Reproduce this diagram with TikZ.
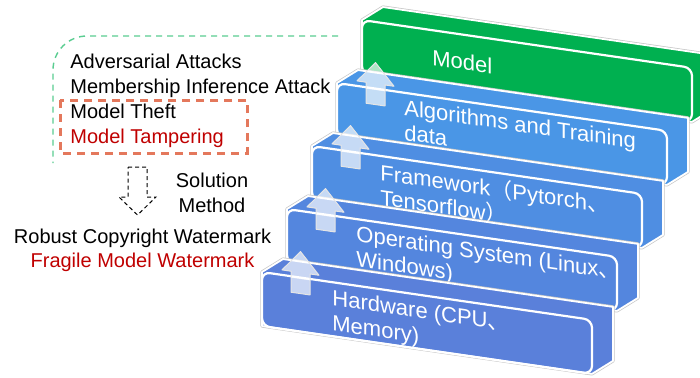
\documentclass[tikz,border=0pt]{standalone}
\usepackage{fontspec}
\setmainfont{Liberation Sans}
\newfontfamily\cjkfont{Noto Sans CJK SC}
\definecolor{mgreen}{RGB}{0,176,80}
\definecolor{blueA}{RGB}{74,150,230}
\definecolor{blueB}{RGB}{79,142,226}
\definecolor{blueC}{RGB}{84,134,222}
\definecolor{blueD}{RGB}{90,128,218}
\definecolor{dashgreen}{RGB}{90,205,145}
\definecolor{dashred}{RGB}{228,120,92}
\definecolor{txtred}{RGB}{192,0,0}
\tikzset{
  slabtext/.style={transform shape, inner sep=0pt, text=white, align=left,
     font=\fontsize{11}{12.5}\selectfont},
  lefttext/.style={inner sep=0pt, font=\fontsize{10}{12}\selectfont},
  uparrow/.style={fill=white, fill opacity=0.68, draw=white!80!gray, line width=0.5pt, line join=round},
}
\newcommand\slabpath{(0,54) -- (0,0) -- (21,-16) -- (351,-16) -- (351,38) -- (330,54) -- cycle}
\newcommand\drawslab[4]{%
  \begin{scope}[shift={(#1,#2)}, yslant=-0.145]
    \draw[gray!45, line width=1.6pt, line join=round] \slabpath;
    \fill[#3] \slabpath;
    \draw[white, line width=0.9pt, line join=round] \slabpath;
    \draw[white, line width=1.1pt, rounded corners=4pt] (0,0) rectangle (330,54);
    #4
  \end{scope}}
\newcommand\uparr{%
  \draw[uparrow] (29,16) -- (29,-5) -- (20,-5) -- (38.5,-26) -- (57,-5) -- (48,-5) -- (48,16) -- cycle;
  \draw[white, opacity=0.6, line width=0.4pt] (29,1) -- (48,1);}
\begin{document}
\begin{tikzpicture}[x=0.5pt, y=-0.5pt]
\useasboundingbox (0,0) rectangle (700,377);
\clip (0,0) rectangle (700,377);
\fill[white] (0,0) rectangle (700,377);

% left dashed frames
\draw[dashgreen, line width=0.7pt, dash pattern=on 3pt off 2.5pt, rounded corners=17pt]
  (338,36) -- (53,36) -- (53,163);
\draw[dashred, line width=1.5pt, dash pattern=on 4pt off 3pt] (60,100) rectangle (247,153);

% left texts
\node[lefttext, anchor=base west] (adv) at (70,68) {Adversarial Attacks};
\node[lefttext, anchor=base west] (mem) at (70,93) {Membership Inference Attack};
\node[lefttext, anchor=base west] (theft) at (70,118) {Model Theft};
\node[lefttext, anchor=base west, text=txtred] (tamper) at (70,143) {Model Tampering};

% dashed down arrow
\draw[black, line width=0.5pt, dash pattern=on 2pt off 1.5pt, line join=miter]
  (128,167) -- (147,167) -- (147,197) -- (156,197) -- (137.5,215) -- (119,197) -- (128,197) -- cycle;
\node[lefttext, anchor=base] (sol) at (212,187) {Solution};
\node[lefttext, anchor=base] (meth) at (212,212) {Method};
\node[lefttext, anchor=base] (robust) at (142.5,243) {Robust Copyright Watermark};
\node[lefttext, anchor=base, text=txtred] (fragile) at (142.5,267) {Fragile Model Watermark};

% stacked slabs
\drawslab{362}{20}{mgreen}{\node[slabtext, anchor=west] (model) at (70,27) {Model};}
\drawslab{337}{83}{blueA}{\uparr
  \node[slabtext, anchor=north west] (algo) at (67,6) {Algorithms and Training\\data};}
\drawslab{312}{146}{blueB}{\uparr
  \node[slabtext, anchor=north west] (frame) at (68,5) {Framework{\cjkfont （}Pytorch{\cjkfont 、}\\Tensorflow{\cjkfont ）}};}
\drawslab{287}{209}{blueC}{\uparr
  \node[slabtext, anchor=north west] (os) at (69,6) {Operating System (Linux{\cjkfont 、}\\Windows)};}
\drawslab{262}{272}{blueD}{\uparr
  \node[slabtext, anchor=north west] (hw) at (70,7) {Hardware (CPU{\cjkfont 、}\\Memory)};}
\end{tikzpicture}
\end{document}
